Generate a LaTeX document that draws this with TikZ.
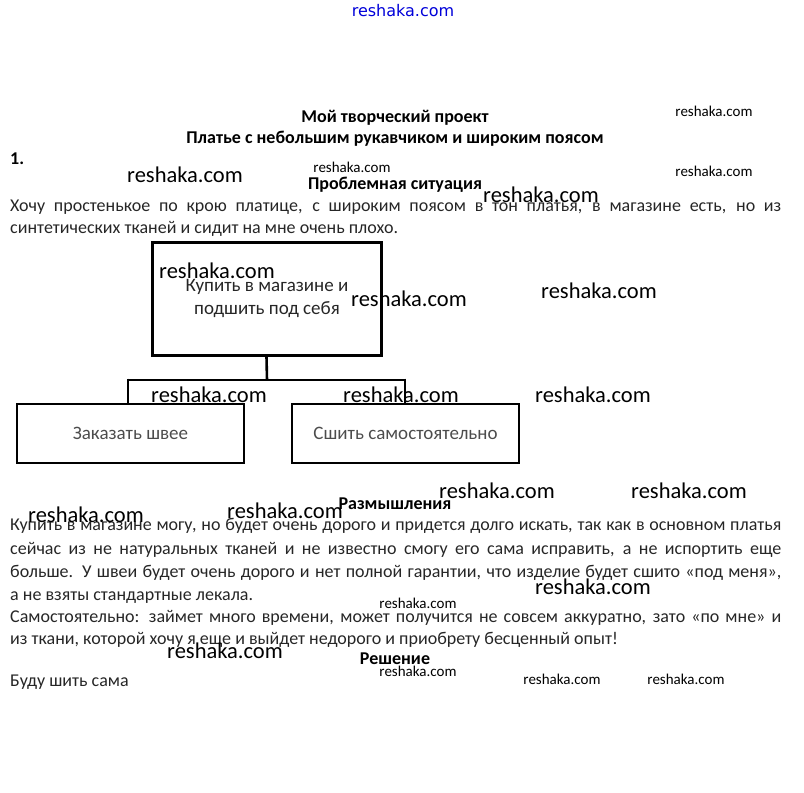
\documentclass[tikz,border=0pt]{standalone}
\usepackage{fontspec}
\setmainfont{Carlito}
\newfontfamily\linkfont{DejaVu Sans}
\tikzset{
  body/.style={anchor=base west, inner sep=0pt, font=\fontsize{18}{21}\selectfont, text=black!85},
  head/.style={anchor=base, inner sep=0pt, font=\fontsize{18}{21}\selectfont\bfseries},
  wmbig/.style={anchor=center, inner sep=0pt, font=\fontsize{22.5}{24}\selectfont},
  wmsmall/.style={anchor=center, inner sep=0pt, font=\fontsize{15}{17}\selectfont},
  bigbox/.style={draw, line width=3pt, minimum width=229pt, minimum height=113pt, inner sep=0pt},
  smallbox/.style={draw, line width=2.4pt, minimum width=227pt, minimum height=59pt, inner sep=0pt, font=\fontsize{19}{22}\selectfont, text=black!70},
  link/.style={line width=2.6pt}
}
\newcommand{\jline}[1]{\parbox{771pt}{\parfillskip=0pt\relax\noindent #1}}
\begin{document}
\begin{tikzpicture}[x=1pt,y=-1pt]
\useasboundingbox (0,0) rectangle (804,793);
% top link
\node[anchor=center, inner sep=0pt, font=\linkfont\fontsize{16}{18}\selectfont, text=blue!85!black] (wtop) at (403,11) {reshaka.com};
% headings
\node[head] (t1) at (395,122) {Мой творческий проект};
\node[head] (t2) at (395,143) {Платье с небольшим рукавчиком и широким поясом};
\node[head, anchor=base west] (n1) at (10,164) {1.};
\node[head] (t3) at (395,189) {Проблемная ситуация};
% problem text
\node[body] (p1) at (10,212) {\jline{Хочу простенькое по крою платице, с широким поясом в тон платья, в магазине есть, но из}};
\node[body] (p2) at (10,233) {синтетических тканей и сидит на мне очень плохо.};
% diagram
\node[bigbox] (top) at (266.5,298.5) {};
\node[font=\fontsize{19}{23}\selectfont, align=center, text=black!85, inner sep=0pt] (toptext) at (267,298) {Купить в магазине и\\подшить под себя};
\node[smallbox] (left) at (130.5,433.5) {Заказать швее};
\node[smallbox] (right) at (405.5,433.5) {Сшить самостоятельно};
\coordinate (hub) at (267,380);
\coordinate (hl) at (128,380);
\coordinate (hr) at (405,380);
\draw[link] (top.south) -- (hub);
\draw[link] (hl) -- (hr);
\draw[link] ([yshift=1.3pt]hl) -- (hl |- left.north);
\draw[link] ([yshift=1.3pt]hr) -- (hr |- right.north);
% reflections
\node[head] (t4) at (395,509) {Размышления};
\node[body] (r1) at (10,530) {\jline{Купить в магазине могу, но будет очень дорого и придется долго искать, так как в основном платья}};
\node[body] (r2) at (10,554) {\jline{сейчас из не натуральных тканей и не известно смогу его сама исправить, а не испортить еще}};
\node[body] (r3) at (10,577) {\jline{больше. У швеи будет очень дорого и нет полной гарантии, что изделие будет сшито «под меня»,}};
\node[body] (r4) at (10,600) {а не взяты стандартные лекала.};
\node[body] (r5) at (10,622) {\jline{Самостоятельно: займет много времени, может получится не совсем аккуратно, зато «по мне» и}};
\node[body] (r6) at (10,644) {из ткани, которой хочу я еще и выйдет недорого и приобрету бесценный опыт!};
\node[head] (t5) at (395,664) {Решение};
\node[body] (s1) at (10,686) {Буду шить сама};
% watermarks
\node[wmsmall] (w1) at (714,111) {reshaka.com};
\node[wmsmall] (w2) at (352,167) {reshaka.com};
\node[wmsmall] (w3) at (714,171) {reshaka.com};
\node[wmbig] (w4) at (185,175) {reshaka.com};
\node[wmbig] (w5) at (541,195) {reshaka.com};
\node[wmbig] (w6) at (217,271) {reshaka.com};
\node[wmbig] (w7) at (409,299) {reshaka.com};
\node[wmbig] (w8) at (599,291) {reshaka.com};
\node[wmbig] (w9) at (209,395) {reshaka.com};
\node[wmbig] (w10) at (401,395) {reshaka.com};
\node[wmbig] (w11) at (593,395) {reshaka.com};
\node[wmbig] (w12) at (497,491) {reshaka.com};
\node[wmbig] (w13) at (689,491) {reshaka.com};
\node[wmbig] (w14) at (86,515) {reshaka.com};
\node[wmbig] (w15) at (285,511) {reshaka.com};
\node[wmbig] (w16) at (593,587) {reshaka.com};
\node[wmbig] (w17) at (225,651) {reshaka.com};
\node[wmsmall] (w18) at (418,603) {reshaka.com};
\node[wmsmall] (w19) at (418,671) {reshaka.com};
\node[wmsmall] (w20) at (562,679) {reshaka.com};
\node[wmsmall] (w21) at (686,679) {reshaka.com};
\end{tikzpicture}
\end{document}
